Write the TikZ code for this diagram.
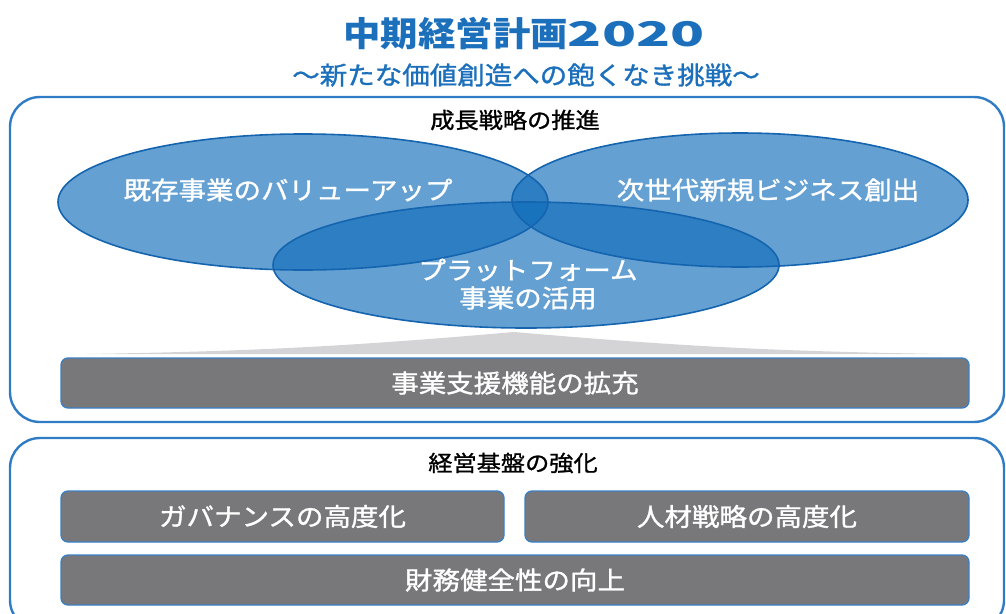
\documentclass[tikz,border=0pt]{standalone}
\usepackage{fontspec}
\newfontfamily\jp[FakeStretch=1.1]{Noto Sans CJK JP}
\newfontfamily\jpm[FakeStretch=1.1,FakeBold=1.2]{Noto Sans CJK JP}
\definecolor{titleblue}{HTML}{1B6FBB}
\definecolor{frameblue}{HTML}{2F7CC5}
\definecolor{ellfill}{HTML}{0F6CB9}
\definecolor{ellline}{HTML}{1464AF}
\definecolor{bargray}{HTML}{78787A}
\definecolor{barline}{HTML}{3A7FC4}
\definecolor{mound}{HTML}{D4D4D6}
\tikzset{
  outerbox/.style={draw=frameblue, line width=2.4pt, rounded corners=30pt},
  ellfillst/.style={fill=ellfill, fill opacity=0.645},
  elllinest/.style={draw=ellline, line width=1.6pt},
  elltext/.style={text=white, font=\jpm\fontsize{25}{30}\selectfont, align=center, inner sep=0pt},
  headtext/.style={text=black, font=\jpm\fontsize{22}{26}\selectfont, inner sep=0pt},
  bar/.style={draw=barline, line width=1.3pt, fill=bargray, rounded corners=7pt,
    text=white, font=\jpm\fontsize{25}{30}\selectfont, inner sep=0pt},
}
\begin{document}
\begin{tikzpicture}[x=1pt,y=-1pt]
\useasboundingbox (0,0) rectangle (1006,613);
\clip (0,0) rectangle (1006,613);
% title
\node[text=titleblue, font=\jp\bfseries\fontsize{34}{40}\selectfont, inner sep=0pt] (title) at (524,34) {中期経営計画\scalebox{1.5}[1]{2020}};
\node[text=titleblue, font=\jpm\fontsize{25}{30}\selectfont, inner sep=0pt] (subtitle) at (526,75) {〜新たな価値創造への飽くなき挑戦〜};
% outer frames
\draw[outerbox] (10,97) rectangle (1004,422);
\draw[outerbox] (10,438) rectangle (1004,630);
\node[headtext] (h1) at (515,120) {成長戦略の推進};
% ellipses
\path[ellfillst] (303,202) ellipse [x radius=245pt, y radius=68pt];
\path[ellfillst] (740,200) ellipse [x radius=228pt, y radius=67pt];
\path[ellfillst] (526,265) ellipse [x radius=253pt, y radius=63pt];
\path[elllinest] (303,202) ellipse [x radius=245pt, y radius=68pt];
\path[elllinest] (740,200) ellipse [x radius=228pt, y radius=67pt];
\path[elllinest] (526,265) ellipse [x radius=253pt, y radius=63pt];
\node[elltext] (e1) at (288,190) {既存事業のバリューアップ};
\node[elltext] (e2) at (768,190) {次世代新規ビジネス創出};
\node[elltext] (e3a) at (528,270) {プラットフォーム};
\node[elltext] (e3b) at (528,298) {事業の活用};
% shadow mound
\path[fill=mound] (87,354) to[bend right=2] (514,332) to[bend right=2] (943,354) -- cycle;
% bars
\node[bar, minimum width=908pt, minimum height=50pt] (b1) at (515,383) {事業支援機能の拡充};
\node[headtext] (h2) at (513,463) {経営基盤の強化};
\node[bar, minimum width=443pt, minimum height=51pt] (b2) at (282.5,516.5) {ガバナンスの高度化};
\node[bar, minimum width=444pt, minimum height=51pt] (b3) at (747,516.5) {人材戦略の高度化};
\node[bar, minimum width=908pt, minimum height=50pt] (b4) at (515,580) {財務健全性の向上};
\end{tikzpicture}
\end{document}
